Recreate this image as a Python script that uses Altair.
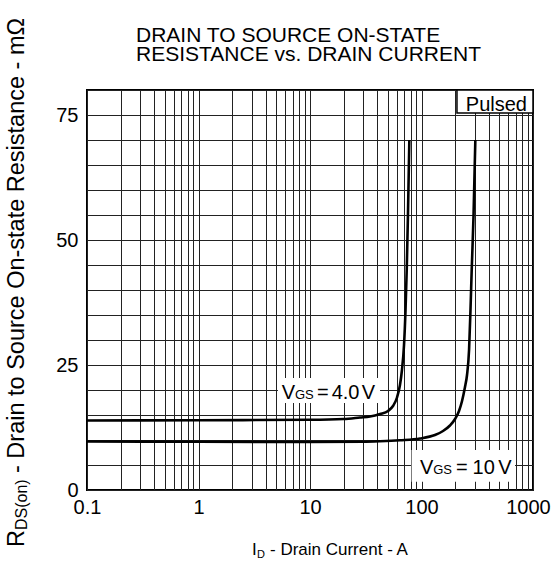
import altair as alt
import pandas as pd

# R_DS(on) vs I_D, pulsed, two gate drive levels
id_vgs4 = [0.1, 1, 10, 20, 28.1, 34.5, 42.5, 50.1, 55.5, 60.3, 64.1, 66.8, 69.7, 71.9, 73.7, 75.6, 77.8]
r_vgs4 = [13.9, 13.95, 14.05, 14.2, 14.5, 14.7, 15.2, 15.8, 16.8, 18.5, 21.0, 24.0, 29.0, 36.0, 44.0, 55.0, 70.0]

id_vgs10 = [0.1, 1, 10, 30, 42.5, 64.1, 97, 132, 156, 180, 200, 217, 231, 245, 256, 267, 275, 282, 293, 304]
r_vgs10 = [9.7, 9.65, 9.6, 9.65, 9.75, 9.95, 10.3, 11.0, 11.8, 12.9, 14.2, 15.8, 17.8, 20.5, 23.0, 28.0, 36.0, 44.0, 55.0, 70.0]

x_label_ticks = [0.1, 1, 10, 100, 1000]
y_label_ticks = [0, 25, 50, 75]

FONT = "Liberation Sans"
GRID = "#222222"

curves = pd.concat([
    pd.DataFrame({"id": id_vgs4, "r": r_vgs4, "vgs": "4.0 V"}),
    pd.DataFrame({"id": id_vgs10, "r": r_vgs10, "vgs": "10 V"}),
])

# grid at every 1..9 step of each decade, every 5 mOhm vertically
x_grid = [round(m * 10 ** e, 6) for e in range(-1, 3) for m in range(1, 10)] + [1000]
y_grid = list(range(0, 81, 5))

x_scale = alt.Scale(type="log", domain=[0.1, 1000], nice=False)
y_scale = alt.Scale(domain=[0, 80], nice=False)

x_expr = "indexof([" + ",".join(str(v) for v in x_label_ticks) + "], datum.value) >= 0 ? format(datum.value, '~g') : ''"
y_expr = "indexof([" + ",".join(str(v) for v in y_label_ticks) + "], datum.value) >= 0 ? format(datum.value, 'd') : ''"

x_axis = alt.Axis(values=x_grid, labelExpr=x_expr, grid=True, gridColor=GRID, gridWidth=1,
                  gridOpacity=1, ticks=False, domain=False, labelFont=FONT, labelFontSize=20,
                  labelColor="black", labelPadding=7, labelFlush=False, labelOverlap=False,
                  labelBound=False, title=None,
                  labelOffset={"condition": {"test": "datum.value == 1000", "value": -5}, "value": 0})
y_axis = alt.Axis(values=y_grid, labelExpr=y_expr, grid=True, gridColor=GRID, gridWidth=1,
                  gridOpacity=1, ticks=False, domain=False, labelFont=FONT, labelFontSize=20,
                  labelColor="black", labelPadding=9, labelFlush=False, labelOverlap=False,
                  labelBound=False, title=None)


def X(field):
    return alt.X(field, scale=x_scale, axis=x_axis)


def Y(field):
    return alt.Y(field, scale=y_scale, axis=y_axis)


lines = alt.Chart(curves).mark_line(
    color="black", strokeWidth=2.6, interpolate="monotone", clip=True
).encode(x=X("id:Q"), y=Y("r:Q"), detail="vgs:N")


def box(x0, x1, y0, y1, stroke=None):
    kw = dict(fill="white", strokeWidth=1.5)
    if stroke:
        kw["stroke"] = stroke
    return alt.Chart(alt.Data(values=[{"x": x0, "x2": x1, "y": y0, "y2": y1}])).mark_rect(**kw).encode(
        x=X("x:Q"), x2="x2:Q", y=Y("y:Q"), y2="y2:Q",
    )


def gate_label(x0, y0, pieces):
    layers = []
    for txt, dx, size in pieces:
        layers.append(
            alt.Chart(alt.Data(values=[{"x": x0, "y": y0}])).mark_text(
                align="left", baseline="alphabetic", dx=dx, font=FONT, fontSize=size, color="black"
            ).encode(x=X("x:Q"), y=Y("y:Q"), text=alt.value(txt))
        )
    return layers


def fixed_text(txt, px, py, size, angle=0, align="left"):
    kw = dict(align=align, baseline="alphabetic", font=FONT, fontSize=size, color="black")
    if angle:
        kw["angle"] = angle
    return alt.Chart(alt.Data(values=[{"a": 1}])).mark_text(**kw).encode(
        x=alt.value(px), y=alt.value(py), text=alt.value(txt)
    )


label4 = [box(5.16, 42.5, 17.4, 22.4)] + gate_label(5.16, 18.2, [
    ("V", 3.7, 20), ("GS", 17, 13), ("=", 39, 20), ("4.0", 53.7, 20), ("V", 83.7, 20)])
label10 = [box(81.5, 690, 1.66, 8.0)] + gate_label(81.5, 3.14, [
    ("V", 8.3, 20), ("GS", 21.6, 13), ("=", 44.3, 20), ("10", 61, 20), ("V", 86.6, 20)])

pulsed_box = box(208, 1000, 75.4, 80, stroke="black")
pulsed_text = alt.Chart(alt.Data(values=[{"x": 1000, "y": 75.4}])).mark_text(
    align="right", baseline="alphabetic", dx=-6, dy=-2, font=FONT, fontSize=20, color="black"
).encode(x=X("x:Q"), y=Y("y:Q"), text=alt.value("Pulsed"))

titles = [
    fixed_text("DRAIN TO SOURCE ON-STATE", 49, -48, 21),
    fixed_text("RESISTANCE vs. DRAIN CURRENT", 49, -29, 21),
    fixed_text("I", 165, 465, 17),
    fixed_text("D", 170, 468, 11),
    fixed_text("- Drain Current - A", 183, 465, 17),
    fixed_text("R", -63, 457, 23.5, angle=270),
    fixed_text("DS(on)", -60, 440, 16, angle=270),
    fixed_text("- Drain to Source On-state Resistance - m\u03a9", -63, 383, 23.5, angle=270),
]

chart = alt.layer(
    lines, *label4, *label10, pulsed_box, pulsed_text, *titles
).properties(
    width=446, height=400,
    autosize=alt.AutoSizeParams(type="none"),
    padding={"left": 87, "top": 90, "right": 19, "bottom": 73},
).configure_view(
    stroke="black", strokeWidth=2
)

chart.save("out.html", embed_options={"renderer": "svg", "actions": False})
